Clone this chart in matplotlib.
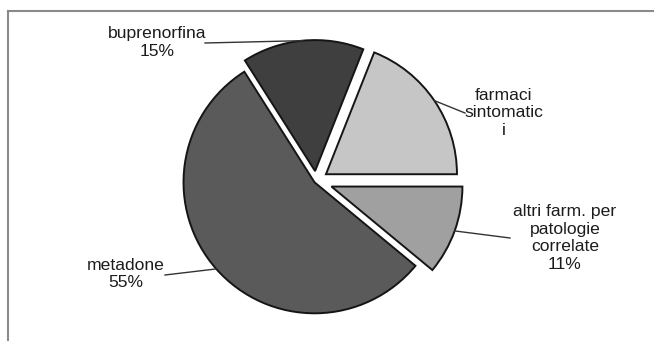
import numpy as np
import matplotlib
matplotlib.use("Agg")
import matplotlib.pyplot as plt
from matplotlib.lines import Line2D

# Data
categories = ['farmaci sintomatici', 'buprenorfina', 'metadone', 'altri farm. per patologie correlate']
values = [19, 15, 55, 11]
label_texts = ['farmaci\nsintomatic\ni', 'buprenorfina\n15%', 'metadone\n55%',
               'altri farm. per\npatologie\ncorrelate\n11%']
colors = ['#c6c6c6', '#3f3f3f', '#5a5a5a', '#a0a0a0']
explode = [0.092, 0.076, 0.015, 0.125]

# layout in pixels (from top-left): pie centre / radius, label centres, leader ends
R_PX = 131.0
cx_px, cy_px = 316.0, 181.0
label_px = [(504, 113), (157, 42.5), (126, 274), (565, 238)]
leader_px = [(465, 113), (205, 43), (165, 275), (510, 238)]


def to_data(p):
    return ((p[0] - cx_px) / R_PX, (cy_px - p[1]) / R_PX)


plt.rcParams['font.family'] = ['Liberation Sans', 'DejaVu Sans']

fig = plt.figure(figsize=(6.54, 3.41), dpi=100)
ax = fig.add_axes([0, 0, 1, 1])

wedges, _ = ax.pie(values, colors=colors, explode=explode, startangle=0,
                   counterclock=True, radius=1,
                   wedgeprops=dict(edgecolor='#151515', linewidth=1.4))

ax.set_xlim(-cx_px / R_PX, (654 - cx_px) / R_PX)
ax.set_ylim(-(341 - cy_px) / R_PX, cy_px / R_PX)
ax.set_aspect('auto')
ax.axis('off')

for w, txt, lp, ep in zip(wedges, label_texts, label_px, leader_px):
    mid = np.deg2rad((w.theta1 + w.theta2) / 2)
    x0 = w.center[0] + w.r * np.cos(mid)
    y0 = w.center[1] + w.r * np.sin(mid)
    ex, ey = to_data(ep)
    ax.plot([x0, ex], [y0, ey], color='#333333', lw=1.0)
    tx, ty = to_data(lp)
    ax.text(tx, ty, txt, ha='center', va='center', fontsize=12.6,
            color='#1c1c1c', linespacing=1.2)

# chart frame (only top and left visible in the crop)
fig.add_artist(Line2D([7.5 / 654, 1], [1 - 10.5 / 341, 1 - 10.5 / 341],
                      transform=fig.transFigure, color='#8a8a8a', lw=1.5))
fig.add_artist(Line2D([7.5 / 654, 7.5 / 654], [0, 1 - 10.5 / 341],
                      transform=fig.transFigure, color='#8a8a8a', lw=1.5))

fig.savefig('out.png', dpi=100)
